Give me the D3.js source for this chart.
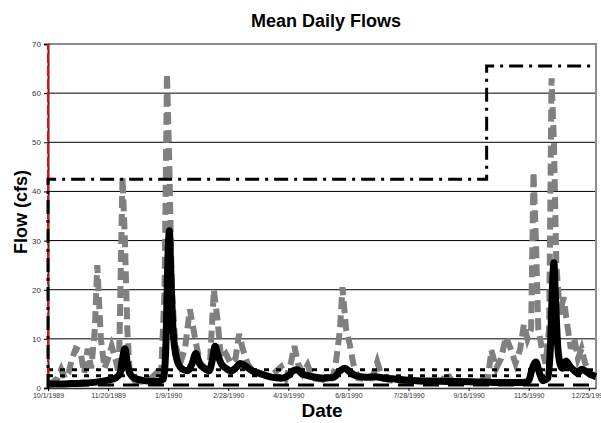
<!DOCTYPE html>
<html>
<head>
<meta charset="utf-8">
<title>Mean Daily Flows</title>
<script src="https://cdn.jsdelivr.net/npm/d3@7"></script>
<style>
  body { margin: 0; background: #fff; }
  svg { display: block; font-family: Arial, "Liberation Sans", sans-serif; }
</style>
</head>
<body>
<svg id="chart" width="601" height="423"></svg>
<script>
// observed daily flow (gray dashed), day offset from 10/1/1989
const obsDay = [0, 4, 8, 11, 14, 17, 20, 23, 27, 30, 33, 36, 39, 41, 44, 47, 50, 53, 56, 59, 61, 62, 64, 66, 68, 72, 78, 84, 90, 94,
  97, 99, 101, 103, 106, 110, 114, 118, 121, 124, 127, 131, 135, 138, 141, 144, 148, 152, 156, 159, 162, 166, 170, 176, 182, 188,
  194, 198, 202, 205, 208, 212, 216, 220, 226, 232, 237, 240, 243, 245, 248, 251, 254, 258, 264, 270, 274, 278, 285, 292, 300,
  310, 320, 328, 332, 336, 344, 352, 360, 366, 369, 373, 377, 381, 385, 389, 393, 396, 399, 402, 404, 406, 408, 411, 414, 417,
  419, 421, 423, 426, 429, 432, 435, 438, 441, 444, 447, 451, 456];
const obsFlow = [1, 1.2, 2, 3.8, 2, 3, 6, 8, 7.5, 3, 8, 4, 12, 25, 10, 4, 6, 8.5, 6, 3, 30, 43, 30, 12, 3, 1.5, 1.3, 1.5, 3, 2,
  20, 64, 45, 20, 9, 5, 8, 16, 12, 8, 5, 4, 6, 20, 14, 6, 7, 5, 6, 11, 8, 5, 3.5, 3, 2.5, 3,
  4.3, 2, 5, 8.5, 5, 3, 4.7, 2, 1.8, 1.5, 2, 6, 12, 20.5, 12, 9, 5, 2, 1.8, 2, 5.3, 2, 1.5, 1.3, 1.5,
  1.3, 1.5, 1.5, 3, 1.5, 1.2, 1.3, 1.5, 2, 7.7, 4, 6, 10.4, 8, 5, 8, 13, 10, 12, 44, 30, 12, 8, 5, 12,
  63, 50, 25, 15, 18.5, 13, 8, 10, 6, 8, 5, 3, 2.5];

// simulated daily flow (black)
const simDay = [0, 10, 20, 30, 40, 50, 56, 60, 62, 64, 66, 68, 72, 80, 90, 96, 98, 100, 101, 102, 104, 107, 111, 116, 120, 123,
  126, 130, 134, 137, 139, 141, 144, 148, 152, 156, 160, 164, 170, 178, 186, 194, 200, 204, 207, 212, 220, 230, 238, 243, 247,
  251, 256, 264, 272, 280, 290, 300, 320, 340, 360, 380, 395, 400, 403, 406, 409, 412, 416, 418, 420, 421, 422, 424, 426, 428,
  431, 434, 438, 441, 444, 447, 451, 456];
const simFlow = [0.8, 0.8, 0.9, 1.0, 1.2, 1.6, 2.0, 3, 6, 8, 5, 3, 2, 1.5, 1.3, 1.8, 8, 28, 32, 25, 12, 6, 4, 3.5, 5, 7,
  5, 4, 3.5, 6, 8.5, 7, 5, 4, 3.5, 4, 5, 4.5, 3.5, 2.8, 2.2, 2, 2.5, 3.5, 3.7, 2.8, 2.3, 2, 2.2, 3.5, 4,
  3.3, 2.5, 2.2, 2.3, 2, 1.8, 1.6, 1.4, 1.3, 1.2, 1.1, 1.1, 1.5, 4, 5.3, 3, 1.5, 2, 8, 22, 25.5, 20, 9, 5, 4,
  5.5, 4.5, 3.5, 3, 3.8, 3.5, 2.8, 2.3];

// reference levels
const stepDay = [0, 0, 365, 365, 456];
const stepFlow = [0, 42.5, 42.5, 65.5, 65.5];
const dottedLevels = [3.7, 2.5];
const dashedLevel = 0.6;

const yTicks = [0, 10, 20, 30, 40, 50, 60, 70];
const xTickLabels = ["10/1/1989", "11/20/1989", "1/9/1990", "2/28/1990", "4/19/1990", "6/8/1990",
  "7/28/1990", "9/16/1990", "11/5/1990", "12/25/1990"];

const parseDate = d3.timeParse("%m/%d/%Y");
const start = parseDate("10/01/1989");
const end = parseDate("12/31/1990");
const dayToDate = d => d3.timeDay.offset(start, d);

const svg = d3.select("#chart");
const plotL = 48, plotR = 596, plotT = 44, plotB = 388;

const x = d3.scaleTime().domain([start, end]).range([plotL, plotR]);
const y = d3.scaleLinear().domain([0, 70]).range([plotB, plotT]);

// gridlines
svg.append("g")
  .selectAll("line")
  .data(yTicks.filter(t => t > 0 && t < 70))
  .join("line")
  .attr("x1", plotL).attr("x2", plotR)
  .attr("y1", d => y(d)).attr("y2", d => y(d))
  .attr("stroke", "#000").attr("stroke-width", 1);

// plot border (top / right)
svg.append("path")
  .attr("d", `M${plotL},${y(70)}H${plotR}V${plotB}`)
  .attr("fill", "none").attr("stroke", "#8c8c8c").attr("stroke-width", 2);

const line = d3.line().x(d => x(dayToDate(d[0]))).y(d => y(d[1]));

// gray observed series
svg.append("path")
  .datum(d3.zip(obsDay, obsFlow))
  .attr("d", line)
  .attr("fill", "none")
  .attr("stroke", "#808080")
  .attr("stroke-width", 6)
  .attr("stroke-dasharray", "12,6");

// dotted levels
svg.append("g")
  .selectAll("line")
  .data(dottedLevels)
  .join("line")
  .attr("x1", plotL).attr("x2", plotR)
  .attr("y1", d => y(d)).attr("y2", d => y(d))
  .attr("stroke", "#000").attr("stroke-width", 3)
  .attr("stroke-dasharray", "5,7");

// dashed level
svg.append("line")
  .attr("x1", plotL).attr("x2", plotR)
  .attr("y1", y(dashedLevel)).attr("y2", y(dashedLevel))
  .attr("stroke", "#000").attr("stroke-width", 3)
  .attr("stroke-dasharray", "16,9");

// black simulated series
svg.append("path")
  .datum(d3.zip(simDay, simFlow))
  .attr("d", d3.line().x(d => x(dayToDate(d[0]))).y(d => y(d[1])).curve(d3.curveMonotoneX))
  .attr("fill", "none")
  .attr("stroke", "#000")
  .attr("stroke-width", 7)
  .attr("stroke-linejoin", "round");

// axes
const yAxis = d3.axisLeft(y).tickValues(yTicks).tickSize(4).tickPadding(3);
svg.append("g")
  .attr("transform", `translate(${plotL},0)`)
  .call(yAxis)
  .call(g => g.select(".domain").attr("stroke", "#333").attr("stroke-width", 2))
  .call(g => g.selectAll("text").attr("font-size", 8).attr("fill", "#333"));

const xAxis = d3.axisBottom(x)
  .tickValues(xTickLabels.map(parseDate))
  .tickFormat((d, i) => xTickLabels[i])
  .tickSize(3).tickPadding(2).tickSizeOuter(0);
svg.append("g")
  .attr("transform", `translate(0,${plotB})`)
  .call(xAxis)
  .call(g => g.select(".domain").attr("stroke", "#333").attr("stroke-width", 1.5))
  .call(g => g.selectAll("text").attr("font-size", 7).attr("fill", "#333"));

// red vertical on left edge
svg.append("line")
  .attr("x1", x(start)).attr("x2", x(start))
  .attr("y1", y(0)).attr("y2", y(70))
  .attr("stroke", "#ff0000").attr("stroke-width", 2)
  .attr("stroke-dasharray", "10,3");

// dash-dot step
svg.append("path")
  .datum(d3.zip(stepDay, stepFlow))
  .attr("d", line)
  .attr("fill", "none")
  .attr("stroke", "#000")
  .attr("stroke-width", 3)
  .attr("stroke-dasharray", "14,6,3,6");

// titles
svg.append("text")
  .attr("x", 326).attr("y", 27)
  .attr("text-anchor", "middle")
  .attr("font-size", 18).attr("font-weight", "bold")
  .text("Mean Daily Flows");

svg.append("text")
  .attr("transform", "translate(27,212) rotate(-90)")
  .attr("text-anchor", "middle")
  .attr("font-size", 18).attr("font-weight", "bold")
  .text("Flow (cfs)");

svg.append("text")
  .attr("x", 322).attr("y", 417)
  .attr("text-anchor", "middle")
  .attr("font-size", 19).attr("font-weight", "bold")
  .text("Date");
</script>
</body>
</html>
